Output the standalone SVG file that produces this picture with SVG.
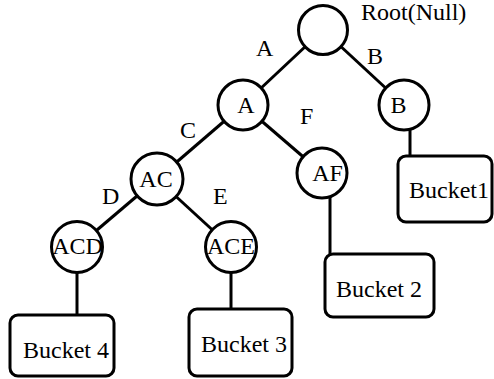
<svg xmlns="http://www.w3.org/2000/svg" width="494" height="379" viewBox="0 0 494 379">
<style>
.n{fill:#fff;stroke:#000;stroke-width:3}
.b{fill:#fff;stroke:#000;stroke-width:3}
.e{stroke:#000;stroke-width:3;fill:none}
.t{font-family:'Liberation Serif','DejaVu Serif',serif;font-size:24px;fill:#000}
.c{text-anchor:middle}
</style>
<rect width="494" height="379" fill="#fff"/>
<g id="connectors">
<line class="e" x1="323" y1="30" x2="243" y2="105"/>
<line class="e" x1="323" y1="30" x2="404" y2="105"/>
<line class="e" x1="243" y1="105" x2="157" y2="179"/>
<line class="e" x1="243" y1="105" x2="322" y2="173"/>
<line class="e" x1="157" y1="179" x2="77" y2="247"/>
<line class="e" x1="157" y1="179" x2="231" y2="247"/>
<line class="e" x1="410" y1="120" x2="410" y2="156"/>
<line class="e" x1="330" y1="190" x2="330" y2="254"/>
<line class="e" x1="77" y1="260" x2="77" y2="315"/>
<line class="e" x1="231" y1="260" x2="231" y2="309"/>
<text class="t" x="256" y="56">A</text>
<text class="t" x="367" y="64">B</text>
<text class="t" x="180" y="138">C</text>
<text class="t" x="300" y="124">F</text>
<text class="t" x="102" y="204">D</text>
<text class="t" x="213" y="204">E</text>
</g>
<g id="root"><circle class="n" cx="323" cy="30" r="24.5"/><text class="t" x="361" y="20">Root(Null)</text></g>
<g id="nA"><circle class="n" cx="243" cy="105" r="25"/><text class="t c" x="246" y="113">A</text></g>
<g id="nB"><circle class="n" cx="404" cy="105" r="25"/><text class="t c" x="398.5" y="113">B</text></g>
<g id="nAC"><circle class="n" cx="157" cy="179" r="26"/><text class="t c" x="156" y="187">AC</text></g>
<g id="nAF"><circle class="n" cx="322" cy="173" r="25"/><text class="t c" x="327.5" y="181">AF</text></g>
<g id="nACD"><circle class="n" cx="77" cy="247" r="25.5"/><text class="t c" x="77.5" y="254">ACD</text></g>
<g id="nACE"><circle class="n" cx="231" cy="247" r="25.5"/><text class="t c" x="231" y="254">ACE</text></g>
<g id="bucket1"><rect class="b" x="398" y="156" width="94" height="66" rx="8"/><text class="t" x="409" y="198">Bucket1</text></g>
<g id="bucket2"><rect class="b" x="325" y="254" width="109" height="63" rx="8"/><text class="t" x="336" y="297">Bucket 2</text></g>
<g id="bucket3"><rect class="b" x="189" y="309" width="103" height="67" rx="8"/><text class="t" x="201" y="352">Bucket 3</text></g>
<g id="bucket4"><rect class="b" x="10" y="315" width="104" height="61" rx="8"/><text class="t" x="23" y="358">Bucket 4</text></g>
</svg>
